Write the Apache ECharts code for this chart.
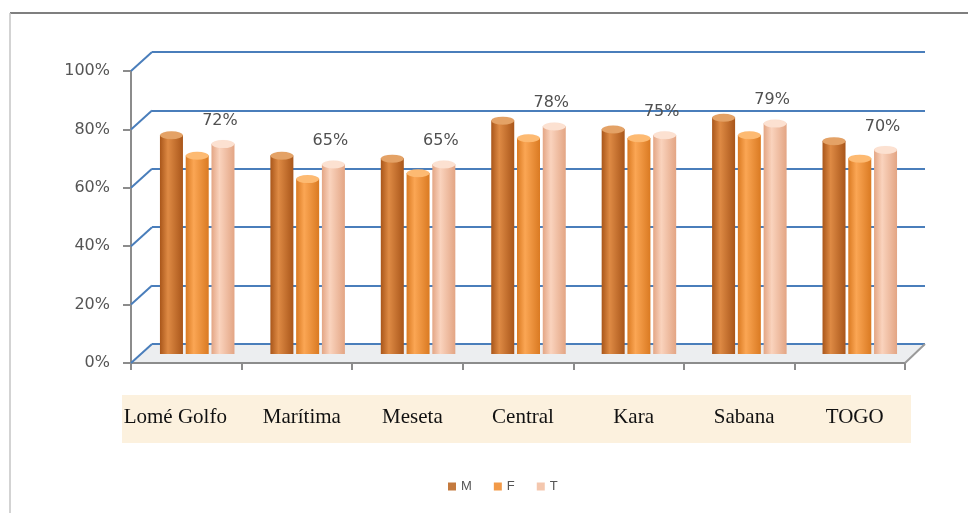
<!DOCTYPE html>
<html>
<head>
<meta charset="utf-8">
<script src="https://cdn.jsdelivr.net/npm/echarts@6/dist/echarts.min.js"></script>
<style>
  html, body { margin: 0; padding: 0; background: #fff; }
  #main { width: 968px; height: 513px; }
</style>
</head>
<body>
<div id="main"></div>
<script>
// data
const categories = ['Lomé Golfo', 'Marítima', 'Meseta', 'Central', 'Kara', 'Sabana', 'TOGO'];
const valuesM = [75, 68, 67, 80, 77, 81, 73];
const valuesF = [68, 60, 62, 74, 74, 75, 67];
const valuesT = [72, 65, 65, 78, 75, 79, 70];
const yTicks = [0, 20, 40, 60, 80, 100];

const chart = echarts.init(document.getElementById('main'), null, { renderer: 'canvas' });

// front axis grid, back wall grid, bars grid (mid depth)
const front = { left: 131, right: 63, top: 71, bottom: 150 };
const back = { left: 152, right: 43, top: 52, bottom: 169 };
const mid = { left: 142, right: 53, top: 62, bottom: 159 };

function cyl(dark, light) {
  return new echarts.graphic.LinearGradient(0, 0, 1, 0, [
    { offset: 0, color: dark },
    { offset: 0.35, color: light },
    { offset: 1, color: dark }
  ]);
}

const barW = 23;
const gap = '12%';

function barSeries(name, data, dark, light, withLabel) {
  return {
    name: name,
    type: 'bar',
    xAxisIndex: 2,
    yAxisIndex: 2,
    data: data,
    barWidth: barW,
    barGap: gap,
    z: 3,
    itemStyle: { color: cyl(dark, light) },
    label: {
      show: withLabel,
      position: 'top',
      distance: 15,
      offset: [-3, 0],
      formatter: '{c}%',
      color: '#505050',
      fontSize: 16,
      fontFamily: 'DejaVu Sans'
    }
  };
}

function capSeries(name, data, fill, rim) {
  return {
    name: name,
    type: 'pictorialBar',
    xAxisIndex: 2,
    yAxisIndex: 2,
    data: data,
    barWidth: barW,
    barGap: gap,
    symbol: 'circle',
    symbolSize: [barW, 8],
    symbolPosition: 'end',
    symbolOffset: [0, '-50%'],
    z: 4,
    itemStyle: { color: fill, borderColor: rim, borderWidth: 1 }
  };
}

const axisFont = { fontFamily: 'DejaVu Sans', fontSize: 16, color: '#555' };

// first label sits flush with the left edge of the strip
const labelData = categories.map(function (c, i) {
  return i === 0 ? { value: c, textStyle: { padding: [0, 22, 0, 0] } } : c;
});

const option = {
  backgroundColor: '#ffffff',
  animation: false,
  legend: {
    data: [
      { name: 'M', itemStyle: { color: '#C47A3E' } },
      { name: 'F', itemStyle: { color: '#F29A48' } },
      { name: 'T', itemStyle: { color: '#F4C7AE' } }
    ],
    icon: 'rect',
    itemWidth: 8,
    itemHeight: 8,
    itemGap: 22,
    left: 443,
    top: 475,
    textStyle: { fontFamily: 'Liberation Sans', fontSize: 13, color: '#555' }
  },
  grid: [
    Object.assign({}, front),
    Object.assign({}, back),
    Object.assign({}, mid)
  ],
  xAxis: [
    {
      gridIndex: 0,
      type: 'category',
      data: labelData,
      axisLine: { lineStyle: { color: '#8c8c8c', width: 2 } },
      axisTick: { show: true, interval: 0, length: 7, lineStyle: { color: '#8c8c8c', width: 2 } },
      axisLabel: {
        interval: 0,
        margin: 44,
        padding: [0, 0, 0, 10],
        fontFamily: 'Liberation Serif',
        fontSize: 21,
        color: '#111'
      }
    },
    { gridIndex: 1, type: 'category', data: categories, show: false },
    { gridIndex: 2, type: 'category', data: categories, show: false }
  ],
  yAxis: [
    {
      gridIndex: 0,
      type: 'value',
      min: 0,
      max: 100,
      interval: 20,
      axisLine: { show: true, lineStyle: { color: '#8c8c8c', width: 2 } },
      axisTick: { show: true, length: 8, lineStyle: { color: '#8c8c8c', width: 2 } },
      splitLine: { show: false },
      axisLabel: Object.assign({ formatter: '{value}%', margin: 21 }, axisFont)
    },
    {
      gridIndex: 1,
      type: 'value',
      min: 0,
      max: 100,
      interval: 20,
      axisLine: { show: false },
      axisTick: { show: false },
      axisLabel: { show: false },
      splitLine: { show: true, lineStyle: { color: '#4A7EBB', width: 2 } }
    },
    { gridIndex: 2, type: 'value', min: 0, max: 100, show: false, splitLine: { show: false } }
  ],
  series: [
    barSeries('M', valuesM, '#A9561A', '#DE8A44', false),
    barSeries('F', valuesF, '#DA7A22', '#FBA654', false),
    barSeries('T', valuesT, '#E3A584', '#FAD3BD', true),
    capSeries('M', valuesM, '#E4A266', '#A9561A'),
    capSeries('F', valuesF, '#FDBA72', '#DA7A22'),
    capSeries('T', valuesT, '#FCE1D1', '#E3A584')
  ]
};

chart.setOption(option);

// decorations: frame, label strip, floor and side wall edges
const W = 968, H = 513;
const fx = front.left, bx = back.left;
const fxr = W - front.right, bxr = W - back.right;
const fy0 = chart.convertToPixel({ yAxisIndex: 0 }, 0);
const by0 = chart.convertToPixel({ yAxisIndex: 1 }, 0);

const deco = [
  { type: 'line', shape: { x1: 10, y1: 13, x2: W, y2: 13 }, style: { stroke: '#7f7f7f', lineWidth: 2 }, z: -1 },
  { type: 'line', shape: { x1: 10, y1: 13, x2: 10, y2: H }, style: { stroke: '#c4c4c4', lineWidth: 1.5 }, z: -1 },
  { type: 'rect', shape: { x: 122, y: 395, width: 789, height: 48 }, style: { fill: '#FCF1DE' }, z: -1 },
  {
    type: 'polygon',
    shape: { points: [[fx, fy0], [bx, by0], [bxr, by0], [fxr, fy0]] },
    style: { fill: '#ECEEF0' },
    z: -1
  },
  { type: 'line', shape: { x1: fxr, y1: fy0, x2: bxr, y2: by0 }, style: { stroke: '#9a9a9a', lineWidth: 2 }, z: 1 }
];
yTicks.forEach(function (v) {
  const yf = chart.convertToPixel({ yAxisIndex: 0 }, v);
  const yb = chart.convertToPixel({ yAxisIndex: 1 }, v);
  deco.push({
    type: 'line',
    shape: { x1: fx, y1: yf, x2: bx, y2: yb },
    style: { stroke: '#4A7EBB', lineWidth: 2 },
    z: 1
  });
});

chart.setOption({ graphic: deco });
</script>
</body>
</html>
